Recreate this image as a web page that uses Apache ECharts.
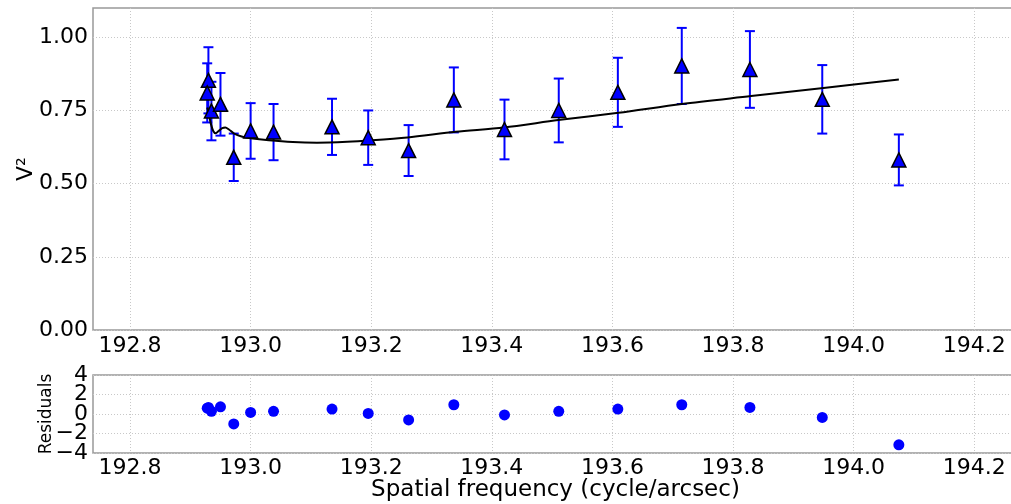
<!DOCTYPE html>
<html>
<head>
<meta charset="utf-8">
<script src="https://cdn.jsdelivr.net/npm/echarts@6/dist/echarts.min.js"></script>
<style>
  html, body { margin: 0; padding: 0; background: #fff; }
  #chart { width: 1011px; height: 504px; }
</style>
</head>
<body>
<div id="chart"></div>
<script>
// measured visibilities
const freq = [192.930, 192.928, 192.935, 192.950, 192.972, 193.000, 193.038, 193.135, 193.195,
  193.262, 193.337, 193.421, 193.511, 193.609, 193.715, 193.828, 193.948, 194.075];
const v2 = [0.853, 0.810, 0.748, 0.771, 0.590, 0.680, 0.676, 0.694, 0.657,
  0.613, 0.786, 0.685, 0.750, 0.812, 0.902, 0.890, 0.788, 0.581];
const v2Err = [0.113, 0.101, 0.100, 0.107, 0.081, 0.095, 0.096, 0.096, 0.093,
  0.087, 0.111, 0.102, 0.109, 0.118, 0.130, 0.131, 0.117, 0.087];
const residuals = [0.67, 0.60, 0.27, 0.74, -1.02, 0.16, 0.27, 0.51, 0.06,
  -0.61, 0.95, -0.10, 0.27, 0.51, 0.95, 0.67, -0.35, -3.16];

// model curve
const modelFreq = [192.928, 192.931, 192.934, 192.938, 192.942, 192.947, 192.953, 192.958, 192.964,
  192.972, 192.985, 193.000, 193.030, 193.070, 193.110, 193.160, 193.200, 193.260, 193.340,
  193.420, 193.510, 193.610, 193.715, 193.830, 193.950, 194.075];
const modelV2 = [0.760, 0.735, 0.705, 0.680, 0.672, 0.680, 0.690, 0.692, 0.685,
  0.672, 0.661, 0.655, 0.648, 0.642, 0.640, 0.643, 0.648, 0.658, 0.677,
  0.692, 0.717, 0.742, 0.772, 0.799, 0.827, 0.856];

const xTicks = [192.8, 193.0, 193.2, 193.4, 193.6, 193.8, 194.0, 194.2];
const v2Ticks = [0, 0.25, 0.5, 0.75, 1.0];
const resTicks = [-4, -2, 0, 2, 4];
// residual labels sit closer than their height, so they're split over two axes
const resLabelsA = [-4, 0, 4];
const resLabelsB = [-2, 2];

const font = 'DejaVu Sans';
const gridLine = { show: true, lineStyle: { color: '#c8c8c8', type: [1, 2], width: 1 } };
const minusFmt = v => (v < 0 ? '\u2212' + Math.abs(v) : String(v));

const xAxisBase = (gridIndex, margin) => ({
  type: 'value',
  gridIndex,
  min: 192.7386,
  max: 194.2726,
  axisLine: { show: false },
  axisTick: { show: false, customValues: xTicks },
  splitLine: gridLine,
  axisLabel: {
    customValues: xTicks,
    formatter: v => v.toFixed(1),
    color: '#000', fontFamily: font, fontSize: 22, margin
  }
});

const resAxis = (labels, extra) => Object.assign({
  type: 'value', gridIndex: 1, min: -4, max: 4,
  position: 'left', offset: 0,
  axisLine: { show: false },
  axisTick: { show: false, customValues: resTicks },
  splitLine: { show: false },
  axisLabel: {
    customValues: labels,
    showMinLabel: true, showMaxLabel: true, hideOverlap: false,
    formatter: minusFmt,
    color: '#000', fontFamily: font, fontSize: 22, margin: 5
  }
}, extra);

const chart = echarts.init(document.getElementById('chart'));

chart.setOption({
  animation: false,
  grid: [
    { left: 93, top: 8, width: 925, height: 322, outerBoundsMode: 'none',
      show: true, borderColor: '#999', borderWidth: 1.5 },
    { left: 93, top: 375, width: 925, height: 78, outerBoundsMode: 'none',
      show: true, borderColor: '#999', borderWidth: 1.5 }
  ],
  xAxis: [
    xAxisBase(0, 5),
    Object.assign(xAxisBase(1, 4), {
      name: 'Spatial frequency (cycle/arcsec)',
      nameLocation: 'middle',
      nameGap: 26,
      nameMoveOverlap: false,
      nameTextStyle: { color: '#000', fontFamily: font, fontSize: 23 }
    })
  ],
  yAxis: [
    {
      type: 'value', gridIndex: 0, min: 0, max: 1.1,
      name: 'V²', nameLocation: 'middle', nameGap: 56, nameMoveOverlap: false,
      nameTextStyle: { color: '#000', fontFamily: font, fontSize: 22 },
      axisLine: { show: false },
      axisTick: { show: false, customValues: v2Ticks },
      splitLine: gridLine,
      axisLabel: {
        customValues: v2Ticks,
        formatter: v => v.toFixed(2),
        color: '#000', fontFamily: font, fontSize: 22, margin: 5
      }
    },
    resAxis(resLabelsA, {
      name: 'Residuals', nameLocation: 'middle', nameGap: 38, nameMoveOverlap: false,
      nameTextStyle: { color: '#000', fontFamily: font, fontSize: 17 },
      splitLine: gridLine
    }),
    resAxis(resLabelsB, {})
  ],
  series: [
    {
      type: 'custom',
      xAxisIndex: 0, yAxisIndex: 0,
      z: 2,
      data: freq.map((f, i) => [f, v2[i] - v2Err[i], v2[i] + v2Err[i]]),
      renderItem: (params, api) => {
        const lo = api.coord([api.value(0), api.value(1)]);
        const hi = api.coord([api.value(0), api.value(2)]);
        const cap = 5;
        const style = { stroke: '#0000ff', lineWidth: 2 };
        return {
          type: 'group',
          children: [
            { type: 'line', shape: { x1: lo[0], y1: lo[1], x2: hi[0], y2: hi[1] }, style },
            { type: 'line', shape: { x1: lo[0] - cap, y1: lo[1], x2: lo[0] + cap, y2: lo[1] }, style },
            { type: 'line', shape: { x1: hi[0] - cap, y1: hi[1], x2: hi[0] + cap, y2: hi[1] }, style }
          ]
        };
      }
    },
    {
      type: 'line',
      xAxisIndex: 0, yAxisIndex: 0,
      z: 3,
      data: modelFreq.map((f, i) => [f, modelV2[i]]),
      showSymbol: false,
      smooth: 0.3,
      lineStyle: { color: '#000', width: 2 }
    },
    {
      type: 'scatter',
      xAxisIndex: 0, yAxisIndex: 0,
      z: 4,
      data: freq.map((f, i) => [f, v2[i]]),
      symbol: 'triangle',
      symbolSize: 14,
      itemStyle: { color: '#0000ff', borderColor: '#000', borderWidth: 1.5, opacity: 1 }
    },
    {
      type: 'scatter',
      xAxisIndex: 1, yAxisIndex: 1,
      data: freq.map((f, i) => [f, residuals[i]]),
      symbol: 'circle',
      symbolSize: 11,
      itemStyle: { color: '#0000ff', opacity: 1 }
    }
  ]
});
</script>
</body>
</html>
